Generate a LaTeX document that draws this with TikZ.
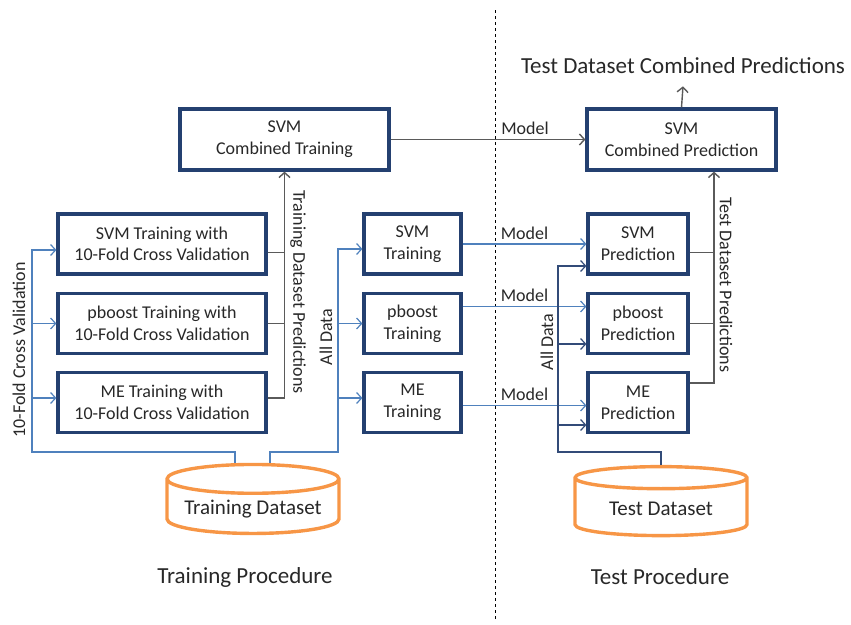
\documentclass[tikz,border=0pt]{standalone}
\usepackage{fontspec}
\setmainfont{Carlito}
\usetikzlibrary{positioning, arrows.meta, shapes.geometric, calc}
\definecolor{boxblue}{RGB}{36, 64, 112}
\definecolor{lineblue}{RGB}{79, 129, 189}
\definecolor{darkline}{RGB}{50, 75, 120}
\definecolor{linegray}{RGB}{90, 90, 90}
\definecolor{dborange}{RGB}{247, 150, 70}
\definecolor{txtgray}{RGB}{40, 40, 40}

\begin{document}
\begin{tikzpicture}[x=1pt, y=-1pt, >={Straight Barb[length=5pt,width=11pt]},
    box/.style={draw=boxblue, line width=3.2pt, fill=white, align=center, inner sep=0pt,
      text=txtgray, font=\fontsize{18}{21.6}\selectfont},
    ltbox/.style={box, minimum width=208pt, minimum height=60pt},
    mbox/.style={box, minimum width=97pt, minimum height=60pt},
    pbox/.style={box, minimum width=100pt, minimum height=60pt},
    cbox/.style={box, minimum height=61pt},
    dbase/.style={cylinder, shape border rotate=90, draw=dborange, line width=3.4pt, fill=white,
      minimum width=172pt, minimum height=69pt, aspect=0.2, text=txtgray,
      font=\fontsize{21}{25}\selectfont},
    lbl/.style={text=txtgray, inner sep=2pt, font=\fontsize{18}{21.6}\selectfont},
    captxt/.style={text=txtgray, inner sep=2pt, font=\fontsize{23}{27}\selectfont},
    bluel/.style={lineblue, line width=1.2pt},
    darkl/.style={darkline, line width=1.2pt},
    grayl/.style={linegray, line width=1.4pt}]
  \useasboundingbox (0,0) rectangle (851,624);
  % divider between the two procedures
  \coordinate (divtop) at (495,10);
  \coordinate (divbot) at (495,620);
  \draw[dashed, line width=0.8pt] (divtop) -- (divbot);

  % Training procedure
  \node[cbox, minimum width=209pt] (ctrain) at (284.5,139.5) {SVM\\Combined Training};
  \node[ltbox] (ltsvm) at (162,244)   {SVM Training with\\10-Fold Cross Validation};
  \node[ltbox] (ltpb)  at (162,323.5) {pboost Training with\\10-Fold Cross Validation};
  \node[ltbox] (ltme)  at (162,402.5) {ME Training with\\10-Fold Cross Validation};
  \node[mbox]  (mtsvm) at (412.5,244)   {SVM\\Training};
  \node[mbox]  (mtpb)  at (412.5,323.5) {pboost\\Training};
  \node[mbox]  (mtme)  at (412.5,402.5) {ME\\Training};
  \node[dbase] (trds)  at (253,509) {Training Dataset};
  \node[captxt] (trcap) at (245,577) {Training Procedure};

  % 10-fold feed
  \coordinate (cvl) at (32,452);
  \coordinate (lsv) at ([yshift=-6pt]ltsvm.west);
  \coordinate (lme) at ([yshift=4.5pt]ltme.west);
  \draw[->, bluel] ([xshift=-18pt]trds.north) |- (cvl) |- (lsv);
  \draw[->, bluel] (cvl |- ltpb.west) -- (ltpb.west);
  \draw[->, bluel] (cvl |- lme) -- (lme);
  \node[lbl, rotate=90] (kfold) at (19,350) {10-Fold Cross Validation};

  % all data feed
  \coordinate (cvm) at (338,452);
  \coordinate (msv) at ([yshift=-5pt]mtsvm.west);
  \coordinate (mme) at ([yshift=4.5pt]mtme.west);
  \draw[->, bluel] ([xshift=17pt]trds.north) |- (cvm) |- (msv);
  \draw[->, bluel] (cvm |- mtpb.west) -- (mtpb.west);
  \draw[->, bluel] (cvm |- mme) -- (mme);
  \node[lbl, rotate=90] (adtr) at (326,337) {All Data};

  % training dataset predictions
  \coordinate (tsv) at ([yshift=-8.7pt]ltsvm.east);
  \coordinate (tme) at ([yshift=4.5pt]ltme.east);
  \draw[->, grayl] (tme) -| (ctrain.south);
  \draw[grayl] (tsv) -- (tsv -| ctrain.south);
  \draw[grayl] (ltpb.east) -- (ltpb.east -| ctrain.south);
  \node[lbl, rotate=-90] (tdp) at (298,292) {Training Dataset Predictions};

  % Test procedure
  \node[cbox, minimum width=189pt] (cpred) at (681.5,139.5) {SVM\\Combined Prediction};
  \node[pbox] (psvm) at (638,244)   {SVM\\Prediction};
  \node[pbox] (ppb)  at (638,323.5) {pboost\\Prediction};
  \node[pbox] (pme)  at (638,402.5) {ME\\Prediction};
  \node[dbase] (teds) at (661,509) {Test Dataset};
  \node[captxt] (tecap) at (660,577) {Test Procedure};
  \node[captxt, anchor=base] (title) at (683,73.3) {Test Dataset Combined Predictions};

  % models
  \draw[->, bluel] (mtsvm.east) -- node[lbl, above=2pt] (md1) {Model} (psvm.west);
  \draw[->, bluel] ([yshift=17pt]mtpb.east) -- node[lbl, above=2pt] (md2) {Model} ([yshift=17pt]ppb.west);
  \draw[->, bluel] ([yshift=-3pt]mtme.east) -- node[lbl, above=2pt] (md3) {Model} ([yshift=-3pt]pme.west);

  % all data feed (test)
  \coordinate (cvt) at (558,452);
  \coordinate (ps1) at ([yshift=-22pt]psvm.west);
  \coordinate (ps2) at ([yshift=-20.5pt]ppb.west);
  \coordinate (ps3) at ([yshift=-22.5pt]pme.west);
  \draw[->, darkl] (teds.north) |- (cvt) |- (ps1);
  \draw[->, darkl] (cvt |- ps2) -- (ps2);
  \draw[->, darkl] (cvt |- ps3) -- (ps3);
  \node[lbl, rotate=90] (adte) at (547,342) {All Data};

  % test dataset predictions
  \coordinate (qsv) at ([yshift=-8.7pt]psvm.east);
  \coordinate (qme) at ([yshift=19.5pt]pme.east);
  \coordinate (cpin) at ([xshift=32.5pt]cpred.south);
  \draw[->, grayl] (qme) -| (cpin);
  \draw[grayl] (qsv) -- (qsv -| cpin);
  \draw[grayl] (ppb.east) -- (ppb.east -| cpin);
  \node[lbl, rotate=-90] (tedp) at (726,285) {Test Dataset Predictions};

  % combined
  \draw[->, grayl] (ctrain.east) -- node[lbl, above=2pt, pos=0.69] (md0) {Model} (cpred.west);
  \draw[->, grayl] (cpred.north) -- ([yshift=-13pt]title.base);
\end{tikzpicture}
\end{document}
